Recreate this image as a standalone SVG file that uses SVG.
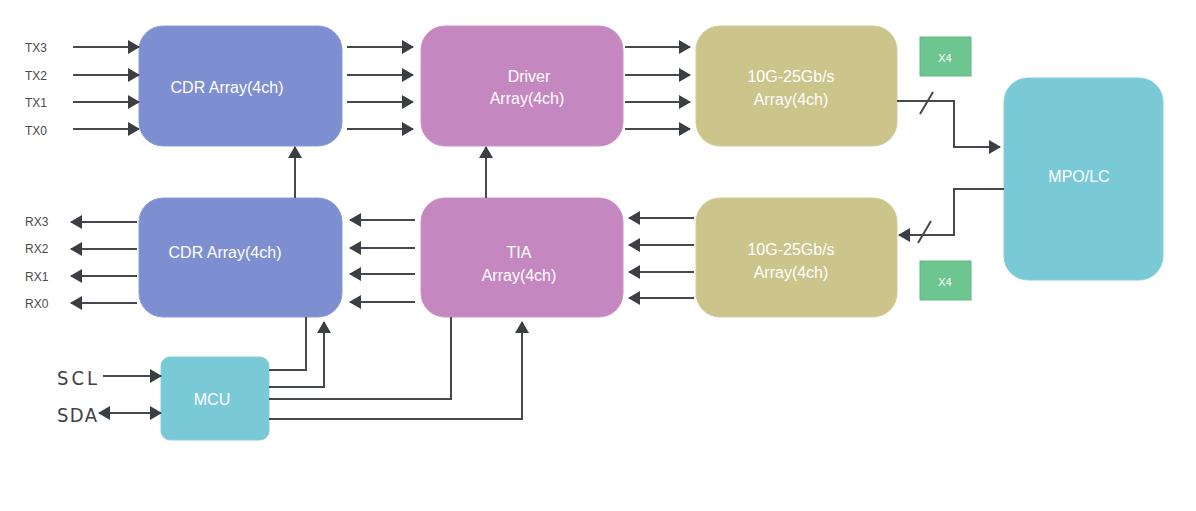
<svg xmlns="http://www.w3.org/2000/svg" width="1196" height="511" viewBox="0 0 1196 511">
<defs>
<marker id="arr" markerUnits="userSpaceOnUse" markerWidth="12" markerHeight="14" refX="11" refY="7" orient="auto-start-reverse" viewBox="0 0 12 14">
<path d="M0,0 L12,7 L0,14 z" fill="#3b3f44"/>
</marker>
<style>
.conn line, .conn path { stroke: #45484c; stroke-width: 2; fill: none; }
.a { marker-end: url(#arr); }
.lbl { font-family: "Liberation Sans", Arial, sans-serif; font-size: 12px; fill: #4a4a4a; }
.big { font-family: "Liberation Sans Narrow", "DejaVu Sans Condensed", "Liberation Sans", sans-serif; font-size: 20px; fill: #3f4246; }
.nt { font-family: "Liberation Sans", Arial, sans-serif; font-size: 16px; fill: #ffffff; text-anchor: middle; }
.sm { font-family: "Liberation Sans", Arial, sans-serif; font-size: 11px; fill: #ffffff; text-anchor: middle; }
.blue { fill: #7d8fd0; stroke: #8a9bd6; stroke-width: 1; }
.pink { fill: #c587c0; stroke: #cc92c7; stroke-width: 1; }
.olive { fill: #cbc48b; stroke: #d2cc98; stroke-width: 1; }
.cyan { fill: #79c9d6; stroke: #86cfdb; stroke-width: 1; }
.green { fill: #6dc690; stroke: #62b883; stroke-width: 1; }
</style>
</defs>
<rect width="1196" height="511" fill="#ffffff"/>

<g id="cdr-tx">
<rect class="blue" x="139" y="26" width="203" height="120" rx="24"/>
<text class="nt" x="227" y="93">CDR Array(4ch)</text>
</g>
<g id="cdr-rx">
<rect class="blue" x="139" y="198" width="203" height="119" rx="24"/>
<text class="nt" x="225" y="258">CDR Array(4ch)</text>
</g>
<g id="driver">
<rect class="pink" x="421" y="26" width="202" height="120" rx="24"/>
<text class="nt" x="529" y="82">Driver</text>
<text class="nt" x="527" y="104">Array(4ch)</text>
</g>
<g id="tia">
<rect class="pink" x="421" y="198" width="202" height="119" rx="24"/>
<text class="nt" x="519" y="258">TIA</text>
<text class="nt" x="519" y="281">Array(4ch)</text>
</g>
<g id="laser">
<rect class="olive" x="696" y="26" width="201" height="120" rx="24"/>
<text class="nt" x="791" y="82">10G-25Gb/s</text>
<text class="nt" x="791" y="105">Array(4ch)</text>
</g>
<g id="pd">
<rect class="olive" x="696" y="198" width="201" height="119" rx="24"/>
<text class="nt" x="791" y="255">10G-25Gb/s</text>
<text class="nt" x="791" y="278">Array(4ch)</text>
</g>
<g id="x4-top">
<rect class="green" x="920" y="37" width="51" height="39"/>
<text class="sm" x="945" y="62">X4</text>
</g>
<g id="x4-bottom">
<rect class="green" x="920" y="261" width="51" height="39"/>
<text class="sm" x="945" y="286">X4</text>
</g>
<g id="mpo">
<rect class="cyan" x="1004" y="78" width="159" height="202" rx="24"/>
<text class="nt" x="1079" y="182">MPO/LC</text>
</g>
<g id="mcu">
<rect class="cyan" x="161" y="357" width="108" height="83" rx="9"/>
<text class="nt" x="212" y="405">MCU</text>
</g>

<g id="labels">
<text class="lbl" x="25" y="52">TX3</text>
<text class="lbl" x="25" y="80">TX2</text>
<text class="lbl" x="25" y="107">TX1</text>
<text class="lbl" x="25" y="135">TX0</text>
<text class="lbl" x="25" y="226">RX3</text>
<text class="lbl" x="25" y="253">RX2</text>
<text class="lbl" x="25" y="281">RX1</text>
<text class="lbl" x="25" y="308">RX0</text>
<text class="big" x="57" y="385" textLength="40" lengthAdjust="spacing">SCL</text>
<text class="big" x="57" y="422" textLength="40" lengthAdjust="spacing">SDA</text>
</g>

<g id="connectors" class="conn">
<line class="a" x1="73" y1="47" x2="139" y2="47"/>
<line class="a" x1="73" y1="75" x2="139" y2="75"/>
<line class="a" x1="73" y1="102" x2="139" y2="102"/>
<line class="a" x1="73" y1="129" x2="139" y2="129"/>

<line class="a" x1="347" y1="47" x2="413" y2="47"/>
<line class="a" x1="347" y1="75" x2="413" y2="75"/>
<line class="a" x1="347" y1="102" x2="413" y2="102"/>
<line class="a" x1="347" y1="129" x2="413" y2="129"/>

<line class="a" x1="625" y1="47" x2="690" y2="47"/>
<line class="a" x1="625" y1="75" x2="690" y2="75"/>
<line class="a" x1="625" y1="102" x2="690" y2="102"/>
<line class="a" x1="625" y1="129" x2="690" y2="129"/>

<line class="a" x1="694" y1="218" x2="629" y2="218"/>
<line class="a" x1="694" y1="245" x2="629" y2="245"/>
<line class="a" x1="694" y1="272" x2="629" y2="272"/>
<line class="a" x1="694" y1="298" x2="629" y2="298"/>

<line class="a" x1="415" y1="220" x2="350" y2="220"/>
<line class="a" x1="415" y1="248" x2="350" y2="248"/>
<line class="a" x1="415" y1="274" x2="350" y2="274"/>
<line class="a" x1="415" y1="302" x2="350" y2="302"/>

<line class="a" x1="137" y1="222" x2="71" y2="222"/>
<line class="a" x1="137" y1="249" x2="71" y2="249"/>
<line class="a" x1="137" y1="276" x2="71" y2="276"/>
<line class="a" x1="137" y1="303" x2="71" y2="303"/>

<line class="a" x1="295" y1="198" x2="295" y2="147"/>
<line class="a" x1="486" y1="198" x2="486" y2="147"/>

<path class="a" d="M897,101 H954 V147 H1000"/>
<line x1="920" y1="114" x2="933" y2="92"/>
<path class="a" d="M1004,189 H954 V235 H899"/>
<line x1="918" y1="243" x2="931" y2="221"/>

<line class="a" x1="103" y1="376" x2="161" y2="376"/>
<line class="a" x1="99" y1="413" x2="161" y2="413" marker-start="url(#arr)"/>

<path d="M269,370 H306 V317"/>
<path class="a" d="M269,387 H324 V322"/>
<path d="M269,399 H451 V317"/>
<path class="a" d="M269,419 H522 V322"/>
</g>
</svg>
